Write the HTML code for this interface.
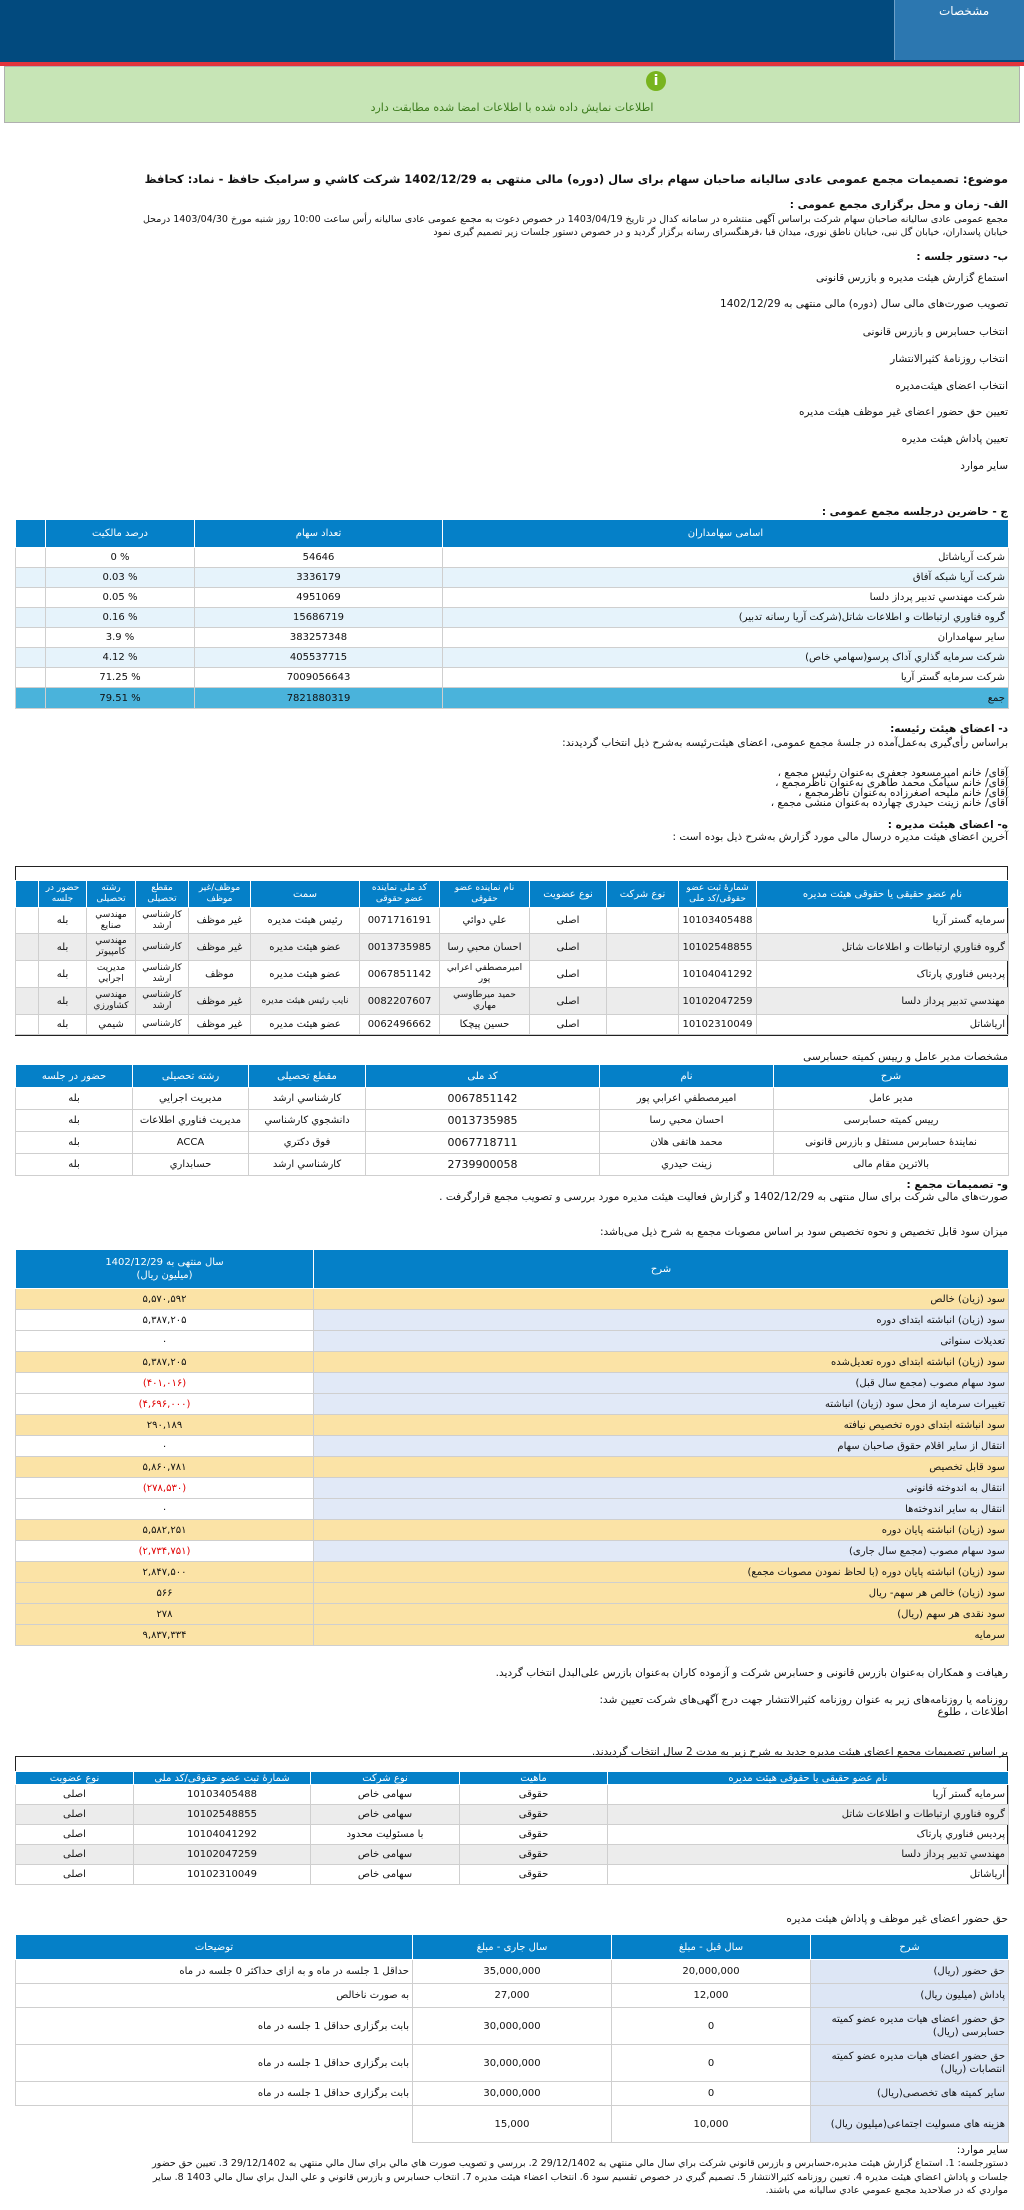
<!DOCTYPE html>
<html><head><meta charset="utf-8">
<style>
*{margin:0;padding:0;box-sizing:border-box}
body{width:1024px;height:2210px;position:relative;background:#fff;font-family:"DejaVu Sans","Liberation Sans",sans-serif;color:#111;overflow:hidden}
.l{position:absolute;right:16px;font-size:10.5px;line-height:13px;white-space:nowrap;direction:rtl;text-align:right}
.b{font-weight:bold}
table{position:absolute;left:15px;width:993px;border-collapse:collapse;table-layout:fixed;direction:rtl}
td{border:1px solid #cfcfcf;font-size:10px;padding:0 3px;overflow:hidden;white-space:nowrap;text-align:center;line-height:11px}
td.r{text-align:right}
tr.h td{background:#0580c8;color:#fff;border-color:#fff}
.box{position:absolute;left:15px;width:993px;border:1.5px solid #222}
.red{color:#e00000}
</style></head><body>
<div style="position:absolute;left:0;top:0;width:1024px;height:63px;background:#024a7e"></div>
<div style="position:absolute;left:894px;top:0;width:130px;height:60px;background:#2c77b0;border-left:1px solid #6ea0c8"></div>
<div style="position:absolute;left:939px;top:4px;color:#fff;font-size:12px;direction:rtl">مشخصات</div>
<div style="position:absolute;left:0;top:62px;width:1024px;height:4px;background:#e2343c"></div>
<div style="position:absolute;left:4px;top:66px;width:1016px;height:57px;background:#c7e5b6;border:1px solid #b0b0b0"></div>
<div style="position:absolute;left:646px;top:71px;width:20px;height:20px;border-radius:50%;background:#78b41e;color:#fff;font-weight:bold;font-size:14px;text-align:center;line-height:20px">i</div>
<div style="position:absolute;left:0;width:1024px;top:101px;text-align:center;font-size:11px;color:#3a7a1a;direction:rtl">اطلاعات نمایش داده شده با اطلاعات امضا شده مطابقت دارد</div>

<div class="l b" style="top:173px;font-size:11.5px">موضوع: تصمیمات مجمع عمومی عادی سالیانه صاحبان سهام برای سال (دوره) مالی منتهی به 1402/12/29 شرکت کاشي و سراميک حافظ - نماد: کحافظ</div>
<div class="l b" style="top:199px">الف- زمان و محل برگزاری مجمع عمومی :</div>
<div class="l" style="top:213px;font-size:9.5px">مجمع عمومی عادی سالیانه صاحبان سهام شرکت براساس آگهی منتشره در سامانه کدال در تاریخ 1403/04/19 در خصوص دعوت به مجمع عمومی عادی سالیانه رأس ساعت 10:00 روز شنبه مورخ 1403/04/30 درمحل</div>
<div class="l" style="top:226px;font-size:9.5px">خیابان پاسداران، خیابان گل نبی، خیابان ناطق نوری، میدان قبا ،فرهنگسرای رسانه برگزار گردید و در خصوص دستور جلسات زیر تصمیم گیری نمود</div>
<div class="l b" style="top:251px">ب- دستور جلسه :</div>
<div class="l" style="top:272px">استماع گزارش هیئت مدیره و بازرس قانونی</div>
<div class="l" style="top:298px">تصویب صورت‌های مالی سال (دوره) مالی منتهی به 1402/12/29</div>
<div class="l" style="top:326px">انتخاب حسابرس و بازرس قانونی</div>
<div class="l" style="top:353px">انتخاب روزنامۀ کثیرالانتشار</div>
<div class="l" style="top:380px">انتخاب اعضای هیئت‌مدیره</div>
<div class="l" style="top:406px">تعیین حق حضور اعضای غیر موظف هیئت مدیره</div>
<div class="l" style="top:433px">تعیین پاداش هیئت مدیره</div>
<div class="l" style="top:460px">سایر موارد</div>

<div class="l b" style="top:506px">ج - حاضرین درجلسه مجمع عمومی :</div>
<table style="top:519px">
<colgroup><col style="width:566px"><col style="width:248px"><col style="width:149px"><col style="width:30px"></colgroup>
<tr class="h" style="height:28px"><td>اسامی سهامداران</td><td>تعداد سهام</td><td>درصد مالکیت</td><td></td></tr>
<tr style="height:20px"><td class="r">شرکت آریاشاتل</td><td>54646</td><td>% 0</td><td></td></tr>
<tr style="height:20px;background:#e6f3fb"><td class="r">شرکت آریا شبکه آفاق</td><td>3336179</td><td>% 0.03</td><td></td></tr>
<tr style="height:20px"><td class="r">شرکت مهندسي تدبير پرداز دلسا</td><td>4951069</td><td>% 0.05</td><td></td></tr>
<tr style="height:20px;background:#e6f3fb"><td class="r">گروه فناوري ارتباطات و اطلاعات شاتل(شرکت آریا رسانه تدبير)</td><td>15686719</td><td>% 0.16</td><td></td></tr>
<tr style="height:20px"><td class="r">سایر سهامداران</td><td>383257348</td><td>% 3.9</td><td></td></tr>
<tr style="height:20px;background:#e6f3fb"><td class="r">شرکت سرمايه گذاري آداک پرسو(سهامي خاص)</td><td>405537715</td><td>% 4.12</td><td></td></tr>
<tr style="height:20px"><td class="r">شرکت سرمايه گستر آريا</td><td>7009056643</td><td>% 71.25</td><td></td></tr>
<tr style="height:21px;background:#4ab3db"><td class="r">جمع</td><td>7821880319</td><td>% 79.51</td><td></td></tr>
</table>

<div class="l b" style="top:723px">د- اعضای هیئت رئیسه:</div>
<div class="l" style="top:737px">براساس رأی‌گیری به‌عمل‌آمده در جلسهٔ مجمع عمومی، اعضای هیئت‌رئیسه به‌شرح ذیل انتخاب گردیدند:</div>
<div class="l" style="top:767px">آقای/ خانم امیرمسعود جعفری به‌عنوان رئیس مجمع ،</div>
<div class="l" style="top:777px">آقای/ خانم سیامک محمد طاهری به‌عنوان ناظرمجمع ،</div>
<div class="l" style="top:787px">آقای/ خانم ملیحه اصغرزاده به‌عنوان ناظرمجمع ،</div>
<div class="l" style="top:797px">آقای/ خانم زینت حیدری چهارده به‌عنوان منشی مجمع ،</div>
<div class="l b" style="top:819px">ه- اعضای هیئت مدیره :</div>
<div class="l" style="top:831px">آخرین اعضای هیئت مدیره درسال مالی مورد گزارش به‌شرح ذیل بوده است :</div>

<div class="box" style="top:866px;height:170px"></div>
<table style="top:880px;font-size:9px">
<colgroup><col style="width:252px"><col style="width:78px"><col style="width:72px"><col style="width:77px"><col style="width:90px"><col style="width:80px"><col style="width:109px"><col style="width:62px"><col style="width:53px"><col style="width:49px"><col style="width:48px"><col style="width:23px"></colgroup>
<tr class="h" style="height:27px"><td>نام عضو حقیقی یا حقوقی هیئت مدیره</td><td style="white-space:normal;font-size:9px">شمارهٔ ثبت عضو حقوقی/کد ملی</td><td>نوع شرکت</td><td>نوع عضویت</td><td style="white-space:normal;font-size:9px">نام نماینده عضو حقوقی</td><td style="white-space:normal;font-size:9px">کد ملی نماینده عضو حقوقی</td><td>سمت</td><td style="white-space:normal;font-size:9px">موظف/غیر موظف</td><td style="white-space:normal;font-size:9px">مقطع تحصیلی</td><td style="white-space:normal;font-size:9px">رشته تحصیلی</td><td style="white-space:normal;font-size:9px">حضور در جلسه</td><td></td></tr>
<tr style="height:26px"><td class="r">سرمايه گستر آريا</td><td>10103405488</td><td></td><td>اصلی</td><td>علي دوائي</td><td>0071716191</td><td>رئیس هیئت مدیره</td><td>غیر موظف</td><td style="white-space:normal;font-size:9px">کارشناسي ارشد</td><td style="white-space:normal;font-size:9px">مهندسي صنایع</td><td>بله</td><td></td></tr>
<tr style="height:27px;background:#ececec"><td class="r">گروه فناوري ارتباطات و اطلاعات شاتل</td><td>10102548855</td><td></td><td>اصلی</td><td>احسان محبي رسا</td><td>0013735985</td><td>عضو هیئت مدیره</td><td>غیر موظف</td><td style="font-size:9px">کارشناسي</td><td style="white-space:normal;font-size:9px">مهندسي کامپيوتر</td><td>بله</td><td></td></tr>
<tr style="height:27px"><td class="r">پرديس فناوري پارتاک</td><td>10104041292</td><td></td><td>اصلی</td><td style="white-space:normal;font-size:9px">اميرمصطفي اعرابي پور</td><td>0067851142</td><td>عضو هیئت مدیره</td><td>موظف</td><td style="white-space:normal;font-size:9px">کارشناسي ارشد</td><td style="white-space:normal;font-size:9px">مديريت اجرايي</td><td>بله</td><td></td></tr>
<tr style="height:27px;background:#ececec"><td class="r">مهندسي تدبير پرداز دلسا</td><td>10102047259</td><td></td><td>اصلی</td><td style="white-space:normal;font-size:9px">حميد ميرطاوسي مهاري</td><td>0082207607</td><td style="white-space:normal;font-size:9px">نایب رئیس هیئت مدیره</td><td>غیر موظف</td><td style="white-space:normal;font-size:9px">کارشناسي ارشد</td><td style="white-space:normal;font-size:9px">مهندسي کشاورزي</td><td>بله</td><td></td></tr>
<tr style="height:20px"><td class="r">اریاشاتل</td><td>10102310049</td><td></td><td>اصلی</td><td>حسين پيچکا</td><td>0062496662</td><td>عضو هیئت مدیره</td><td>غیر موظف</td><td style="font-size:9px">کارشناسي</td><td>شيمي</td><td>بله</td><td></td></tr>
</table>

<div class="l" style="top:1051px">مشخصات مدیر عامل و رییس کمیته حسابرسی</div>
<table style="top:1064px">
<colgroup><col style="width:235px"><col style="width:174px"><col style="width:234px"><col style="width:117px"><col style="width:116px"><col style="width:117px"></colgroup>
<tr class="h" style="height:23px"><td>شرح</td><td>نام</td><td>کد ملی</td><td>مقطع تحصیلی</td><td>رشته تحصیلی</td><td>حضور در جلسه</td></tr>
<tr style="height:22px"><td>مدیر عامل</td><td>اميرمصطفي اعرابي پور</td><td style="font-size:11px">0067851142</td><td>کارشناسي ارشد</td><td>مديريت اجرايي</td><td>بله</td></tr>
<tr style="height:22px"><td>رییس کمیته حسابرسی</td><td>احسان محبي رسا</td><td style="font-size:11px">0013735985</td><td>دانشجوي کارشناسي</td><td>مديريت فناوري اطلاعات</td><td>بله</td></tr>
<tr style="height:22px"><td>نمایندهٔ حسابرس مستقل و بازرس قانونی</td><td>محمد هاتفی هلان</td><td style="font-size:11px">0067718711</td><td>فوق دكتري</td><td>ACCA</td><td>بله</td></tr>
<tr style="height:22px"><td>بالاترین مقام مالی</td><td>زينت حيدري</td><td style="font-size:11px">2739900058</td><td>کارشناسي ارشد</td><td>حسابداري</td><td>بله</td></tr>
</table>

<div class="l b" style="top:1179px">و- تصمیمات مجمع :</div>
<div class="l" style="top:1191px">صورت‌های مالی شرکت برای سال منتهی به 1402/12/29 و گزارش فعالیت هیئت مدیره مورد بررسی و تصویب مجمع قرارگرفت .</div>
<div class="l" style="top:1226px">میزان سود قابل تخصیص و نحوه تخصیص سود بر اساس مصوبات مجمع به شرح ذیل می‌باشد:</div>

<table style="top:1249px">
<colgroup><col style="width:695px"><col style="width:298px"></colgroup>
<tr class="h" style="height:39px"><td>شرح</td><td style="white-space:normal;line-height:13px">سال منتهی به 1402/12/29<br>(میلیون ریال)</td></tr>
<tr style="height:21px;background:#fbe3a6"><td class="r">سود (زیان) خالص</td><td>۵,۵۷۰,۵۹۲</td></tr>
<tr style="height:21px"><td class="r" style="background:#e1e9f7">سود (زیان) انباشته ابتدای دوره</td><td>۵,۳۸۷,۲۰۵</td></tr>
<tr style="height:21px"><td class="r" style="background:#e1e9f7">تعدیلات سنواتی</td><td>۰</td></tr>
<tr style="height:21px;background:#fbe3a6"><td class="r">سود (زیان) انباشته ابتدای دوره تعدیل‌شده</td><td>۵,۳۸۷,۲۰۵</td></tr>
<tr style="height:21px"><td class="r" style="background:#e1e9f7">سود سهام مصوب (مجمع سال قبل)</td><td class="red">(۴۰۱,۰۱۶)</td></tr>
<tr style="height:21px"><td class="r" style="background:#e1e9f7">تغییرات سرمایه از محل سود (زیان) انباشته</td><td class="red">(۴,۶۹۶,۰۰۰)</td></tr>
<tr style="height:21px;background:#fbe3a6"><td class="r">سود انباشته ابتدای دوره تخصیص نیافته</td><td>۲۹۰,۱۸۹</td></tr>
<tr style="height:21px"><td class="r" style="background:#e1e9f7">انتقال از سایر اقلام حقوق صاحبان سهام</td><td>۰</td></tr>
<tr style="height:21px;background:#fbe3a6"><td class="r">سود قابل تخصیص</td><td>۵,۸۶۰,۷۸۱</td></tr>
<tr style="height:21px"><td class="r" style="background:#e1e9f7">انتقال به اندوخته قانونی</td><td class="red">(۲۷۸,۵۳۰)</td></tr>
<tr style="height:21px"><td class="r" style="background:#e1e9f7">انتقال به سایر اندوخته‌ها</td><td>۰</td></tr>
<tr style="height:21px;background:#fbe3a6"><td class="r">سود (زیان) انباشته پایان دوره</td><td>۵,۵۸۲,۲۵۱</td></tr>
<tr style="height:21px"><td class="r" style="background:#e1e9f7">سود سهام مصوب (مجمع سال جاری)</td><td class="red">(۲,۷۳۴,۷۵۱)</td></tr>
<tr style="height:21px;background:#fbe3a6"><td class="r">سود (زیان) انباشته پایان دوره (با لحاظ نمودن مصوبات مجمع)</td><td>۲,۸۴۷,۵۰۰</td></tr>
<tr style="height:21px;background:#fbe3a6"><td class="r">سود (زیان) خالص هر سهم- ریال</td><td>۵۶۶</td></tr>
<tr style="height:21px;background:#fbe3a6"><td class="r">سود نقدی هر سهم (ریال)</td><td>۲۷۸</td></tr>
<tr style="height:21px;background:#fbe3a6"><td class="r">سرمایه</td><td>۹,۸۳۷,۳۳۴</td></tr>
</table>

<div class="l" style="top:1667px">رهیافت و همکاران به‌عنوان بازرس قانونی و حسابرس شرکت و آزموده کاران به‌عنوان بازرس علی‌البدل انتخاب گردید.</div>
<div class="l" style="top:1694px">روزنامه یا روزنامه‌های زیر به عنوان روزنامه کثیرالانتشار جهت درج آگهی‌های شرکت تعیین شد:</div>
<div class="l" style="top:1706px">اطلاعات ، طلوع</div>
<div class="l" style="top:1746px">بر اساس تصمیمات مجمع اعضای هیئت مدیره جدید به شرح زیر به مدت 2 سال انتخاب گردیدند.</div>

<div class="box" style="top:1756px;height:129px"></div>
<table style="top:1771px">
<colgroup><col style="width:401px"><col style="width:148px"><col style="width:149px"><col style="width:177px"><col style="width:118px"></colgroup>
<tr class="h" style="height:13px"><td>نام عضو حقیقی یا حقوقی هیئت مدیره</td><td>ماهیت</td><td>نوع شرکت</td><td>شمارهٔ ثبت عضو حقوقی/کد ملی</td><td>نوع عضویت</td></tr>
<tr style="height:20px"><td class="r">سرمايه گستر آريا</td><td>حقوقی</td><td>سهامی خاص</td><td>10103405488</td><td>اصلی</td></tr>
<tr style="height:20px;background:#ececec"><td class="r">گروه فناوري ارتباطات و اطلاعات شاتل</td><td>حقوقی</td><td>سهامی خاص</td><td>10102548855</td><td>اصلی</td></tr>
<tr style="height:20px"><td class="r">پرديس فناوري پارتاک</td><td>حقوقی</td><td>با مسئولیت محدود</td><td>10104041292</td><td>اصلی</td></tr>
<tr style="height:20px;background:#ececec"><td class="r">مهندسي تدبير پرداز دلسا</td><td>حقوقی</td><td>سهامی خاص</td><td>10102047259</td><td>اصلی</td></tr>
<tr style="height:20px"><td class="r">اریاشاتل</td><td>حقوقی</td><td>سهامی خاص</td><td>10102310049</td><td>اصلی</td></tr>
</table>

<div class="l" style="top:1913px">حق حضور اعضای غیر موظف و پاداش هیئت مدیره</div>
<table style="top:1934px">
<colgroup><col style="width:198px"><col style="width:199px"><col style="width:199px"><col style="width:397px"></colgroup>
<tr class="h" style="height:25px"><td>شرح</td><td>سال قبل - مبلغ</td><td>سال جاری - مبلغ</td><td>توضیحات</td></tr>
<tr style="height:24px"><td class="r" style="background:#dde6f5">حق حضور (ریال)</td><td>20,000,000</td><td>35,000,000</td><td class="r">حداقل 1 جلسه در ماه و به ازای حداکثر 0 جلسه در ماه</td></tr>
<tr style="height:24px"><td class="r" style="background:#dde6f5">پاداش (میلیون ریال)</td><td>12,000</td><td>27,000</td><td class="r">به صورت ناخالص</td></tr>
<tr style="height:37px"><td class="r" style="background:#dde6f5;white-space:normal;line-height:13px">حق حضور اعضای هیات مدیره عضو کمیته حسابرسی (ریال)</td><td>0</td><td>30,000,000</td><td class="r">بابت برگزاری حداقل 1 جلسه در ماه</td></tr>
<tr style="height:37px"><td class="r" style="background:#dde6f5;white-space:normal;line-height:13px">حق حضور اعضای هیات مدیره عضو کمیته انتصابات (ریال)</td><td>0</td><td>30,000,000</td><td class="r">بابت برگزاری حداقل 1 جلسه در ماه</td></tr>
<tr style="height:24px"><td class="r" style="background:#dde6f5">سایر کمیته های تخصصی(ریال)</td><td>0</td><td>30,000,000</td><td class="r">بابت برگزاری حداقل 1 جلسه در ماه</td></tr>
<tr style="height:37px"><td class="r" style="background:#dde6f5;white-space:normal;line-height:13px">هزینه های مسولیت اجتماعی(میلیون ریال)</td><td>10,000</td><td>15,000</td><td style="border:none;border-top:1px solid #cfcfcf"></td></tr>
</table>

<div class="l" style="top:2144px">سایر موارد:</div>
<div class="l" style="top:2157px;font-size:9.5px">دستورجلسه: 1. استماع گزارش هيئت مديره،حسابرس و بازرس قانوني شركت براي سال مالي منتهي به 29/12/1402 2. بررسي و تصويب صورت هاي مالي براي سال مالي منتهي به 29/12/1402 3. تعيين حق حضور</div>
<div class="l" style="top:2171px;font-size:9.5px">جلسات و پاداش اعضاي هيئت مديره 4. تعيين روزنامه كثيرالانتشار 5. تصميم گيري در خصوص تقسيم سود 6. انتخاب اعضاء هيئت مديره 7. انتخاب حسابرس و بازرس قانوني و علي البدل براي سال مالي 1403 8. ساير</div>
<div class="l" style="top:2184px;font-size:9.5px">مواردي كه در صلاحديد مجمع عمومي عادي ساليانه مي باشند.</div>
</body></html>
